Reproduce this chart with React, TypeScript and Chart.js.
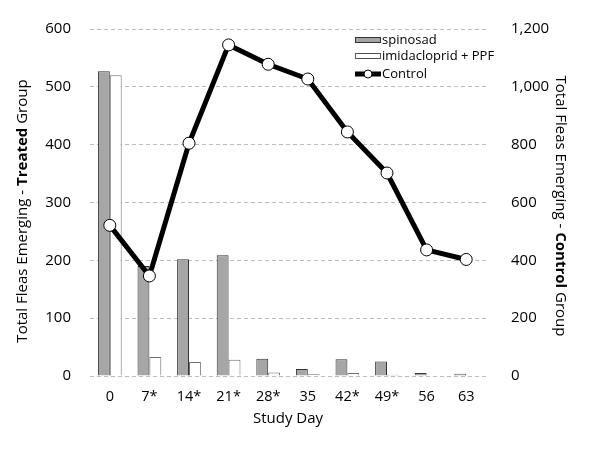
import React, { useEffect, useRef } from "react";
import { Chart, registerables } from "chart.js";

Chart.register(...registerables);

const studyDays = ["0", "7*", "14*", "21*", "28*", "35", "42*", "49*", "56", "63"];
const spinosad = [527, 190, 202, 209, 30, 12, 29, 25, 5, 4];
const imidaclopridPPF = [520, 33, 24, 28, 6, 3, 5, 2, 0, 0];
const control = [521, 346, 805, 1145, 1078, 1027, 844, 702, 436, 403];

const FONT = "'Open Sans', 'Noto Sans', sans-serif";

const CHART_LEFT = 90;
const CHART_RIGHT = 486;
const CHART_TOP = 29;
const CHART_BOTTOM = 376;

function drawMixed(ctx: CanvasRenderingContext2D, parts: { t: string; b: boolean }[], size: number) {
  let total = 0;
  const widths: number[] = [];
  for (const p of parts) {
    ctx.font = `${p.b ? "bold " : ""}${size}px ${FONT}`;
    const w = ctx.measureText(p.t).width;
    widths.push(w);
    total += w;
  }
  let x = -total / 2;
  parts.forEach((p, i) => {
    ctx.font = `${p.b ? "bold " : ""}${size}px ${FONT}`;
    ctx.fillText(p.t, x, 0);
    x += widths[i];
  });
}

const customPlugin = {
  id: "customText",
  afterDraw(chart: any) {
    const ctx: CanvasRenderingContext2D = chart.ctx;
    ctx.save();
    ctx.fillStyle = "#000";
    ctx.textAlign = "left";
    ctx.textBaseline = "middle";
    // left title
    ctx.save();
    ctx.translate(23, 211);
    ctx.rotate(-Math.PI / 2);
    drawMixed(ctx, [
      { t: "Total Fleas Emerging - ", b: false },
      { t: "Treated", b: true },
      { t: " Group", b: false },
    ], 15);
    ctx.restore();
    // right title
    ctx.save();
    ctx.translate(560, 206);
    ctx.rotate(Math.PI / 2);
    drawMixed(ctx, [
      { t: "Total Fleas Emerging - ", b: false },
      { t: "Control", b: true },
      { t: " Group", b: false },
    ], 15);
    ctx.restore();

    // legend
    ctx.font = `13px ${FONT}`;
    ctx.textBaseline = "middle";
    const bx = 355, bw = 26;
    // spinosad
    ctx.fillStyle = "#a6a6a6";
    ctx.fillRect(bx, 37, bw, 6);
    ctx.strokeStyle = "#333333";
    ctx.lineWidth = 1;
    ctx.strokeRect(bx + 0.5, 37.5, bw - 1, 5);
    ctx.fillStyle = "#000";
    ctx.fillText(chart.data.datasets[0].label, 382, 40);
    // imid
    ctx.fillStyle = "#fff";
    ctx.fillRect(bx, 53, bw, 6);
    ctx.strokeStyle = "#555555";
    ctx.strokeRect(bx + 0.5, 53.5, bw - 1, 5);
    ctx.fillStyle = "#000";
    ctx.fillText(chart.data.datasets[1].label, 382, 56);
    // control
    ctx.strokeStyle = "#000";
    ctx.lineWidth = 5;
    ctx.beginPath();
    ctx.moveTo(bx, 74);
    ctx.lineTo(bx + bw, 74);
    ctx.stroke();
    ctx.beginPath();
    ctx.arc(bx + 13, 74, 4, 0, Math.PI * 2);
    ctx.fillStyle = "#fff";
    ctx.fill();
    ctx.lineWidth = 1;
    ctx.strokeStyle = "#000";
    ctx.stroke();
    ctx.fillStyle = "#000";
    ctx.fillText(chart.data.datasets[2].label, 382, 74);

    ctx.restore();
  },
};

export default function App() {
  const ref = useRef<HTMLCanvasElement>(null);
  useEffect(() => {
    if (!ref.current) return;
    const chart = new Chart(ref.current, {
      type: "bar",
      data: {
        labels: studyDays,
        datasets: [
          {
            type: "bar",
            label: "spinosad",
            data: spinosad,
            backgroundColor: "#a6a6a6",
            borderColor: "#333333",
            borderWidth: 1,
            yAxisID: "y",
            order: 2,
            categoryPercentage: 0.6,
            barPercentage: 1,
          },
          {
            type: "bar",
            label: "imidacloprid + PPF",
            data: imidaclopridPPF,
            backgroundColor: "#ffffff",
            borderColor: "#6f6f6f",
            borderWidth: 1,
            yAxisID: "y",
            order: 2,
            categoryPercentage: 0.6,
            barPercentage: 1,
          },
          {
            type: "line",
            label: "Control",
            data: control,
            borderColor: "#000",
            borderWidth: 5,
            pointBackgroundColor: "#fff",
            pointBorderColor: "#000",
            pointBorderWidth: 1,
            pointRadius: 6,
            yAxisID: "y1",
            order: 0,
          } as any,
        ],
      },
      options: {
        animation: false,
        responsive: false,
        layout: { padding: { top: CHART_TOP, left: 0, right: 0, bottom: 0 } },
        plugins: { legend: { display: false }, tooltip: { enabled: false } },
        scales: {
          x: {
            grid: { display: false },
            border: { display: false },
            ticks: { color: "#000", font: { family: FONT, size: 14.5 }, padding: 4 },
            title: {
              display: true,
              text: "Study Day",
              color: "#000",
              font: { family: FONT, size: 15 },
              padding: { top: 0, bottom: 29 },
            },
            afterFit(scale: any) {
              scale.height = 457 - CHART_BOTTOM;
            },
          },
          y: {
            position: "left",
            min: 0,
            max: 600,
            ticks: { stepSize: 100, color: "#000", font: { family: FONT, size: 15 }, padding: 19 },
            grid: { color: "#bdbdbd", drawTicks: false, tickLength: 0 },
            border: { display: false, dash: [4, 3] },
            afterFit(scale: any) {
              scale.width = CHART_LEFT;
            },
          },
          y1: {
            position: "right",
            min: 0,
            max: 1200,
            ticks: {
              stepSize: 200,
              color: "#000",
              font: { family: FONT, size: 15 },
              padding: 17,
              callback: (v: any) => Number(v).toLocaleString("en-US"),
            },
            grid: { display: false },
            border: { display: false },
            afterFit(scale: any) {
              scale.width = 600 - CHART_RIGHT;
            },
          },
        },
      } as any,
      plugins: [customPlugin],
    });
    return () => chart.destroy();
  }, []);
  return (
    <div style={{ position: "absolute", left: 0, top: 0, width: 600, height: 457, background: "#fff" }}>
      <canvas ref={ref} width={600} height={457} style={{ width: 600, height: 457 }} />
    </div>
  );
}
